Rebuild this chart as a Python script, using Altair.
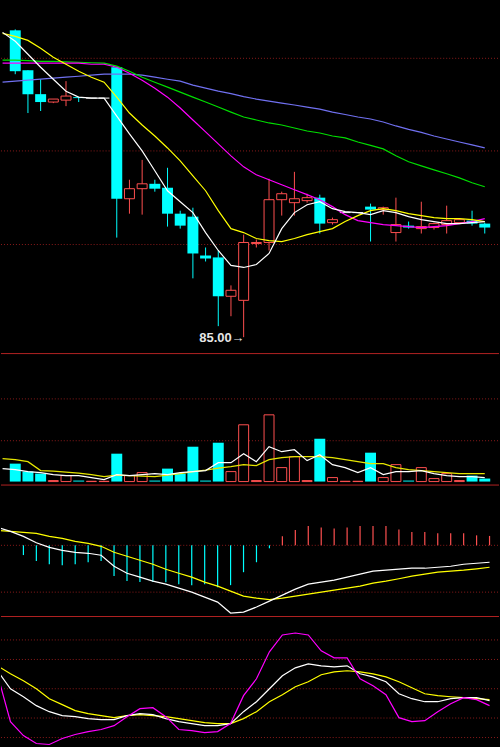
import altair as alt
import numpy as np
import pandas as pd

# ---------------------------------------------------------------- daily bars (yuan)
opens  = [110.67, 107.33, 105.33, 104.67, 104.83, 105.08, 105.00, 105.00, 107.58, 96.58,
          97.42, 97.83, 97.50, 95.33, 95.08, 91.83, 91.67, 88.42, 88.08, 92.83,
          92.92, 96.50, 96.25, 96.42, 96.67, 94.58, 95.42, 95.42, 95.92, 95.67,
          93.75, 94.33, 94.08, 94.17, 94.42, 94.58, 94.75, 94.50]
highs  = [110.75, 107.33, 106.58, 104.92, 106.42, 105.08, 105.00, 105.00, 107.58, 98.17,
          99.83, 98.17, 99.17, 95.58, 95.83, 92.50, 92.25, 89.33, 93.58, 93.17,
          98.25, 97.17, 98.83, 97.00, 96.92, 95.00, 95.42, 95.42, 96.17, 95.92,
          96.67, 94.67, 96.33, 94.58, 96.00, 94.92, 95.58, 94.58]
lows   = [107.00, 103.75, 103.92, 104.58, 104.33, 104.67, 105.00, 105.00, 93.33, 95.33,
          95.25, 97.17, 94.25, 94.08, 89.92, 91.33, 85.92, 86.75, 85.00, 92.50,
          92.25, 95.17, 95.17, 96.25, 93.67, 94.42, 95.42, 95.42, 93.00, 95.25,
          93.00, 94.08, 93.67, 94.00, 93.67, 94.50, 94.33, 93.67]
closes = [107.25, 105.33, 104.67, 104.92, 105.17, 105.00, 105.00, 105.00, 96.58, 97.42,
          97.83, 97.42, 95.33, 94.33, 92.00, 91.58, 88.42, 88.92, 92.92, 92.92,
          96.50, 97.00, 96.58, 96.67, 94.50, 94.83, 95.42, 95.42, 95.67, 95.83,
          94.42, 94.17, 94.25, 94.50, 94.75, 94.83, 94.50, 94.17]
volumes = [9000, 5000, 4000, 500, 3000, 500, 150, 150, 14000, 3000,
           4500, 500, 6500, 4000, 17500, 500, 19500, 5000, 28500, 500,
           33500, 7000, 12500, 500, 21500, 2000, 150, 150, 14500, 2000,
           8500, 500, 7000, 1500, 4000, 500, 3000, 1500]

# ---------------------------------------------------------------- indicator series
# line series carry one extra leading value: the session just before the window
ma5  = [110.50, 109.75, 108.67, 107.58, 106.58, 105.58, 105.08, 105.00, 105.00, 103.50,
        102.00, 100.58, 98.92, 97.25, 96.33, 95.42, 93.75, 92.25, 91.00, 90.83,
        91.08, 92.00, 94.08, 95.42, 96.08, 96.33, 95.75, 95.50, 95.42, 95.25,
        95.58, 95.42, 95.08, 94.83, 94.67, 94.50, 94.50, 94.58, 94.67]
ma10 = [110.42, 110.17, 109.83, 109.17, 108.42, 107.83, 107.25, 106.75, 106.33, 105.08,
        103.75, 102.75, 101.83, 100.83, 99.75, 98.50, 97.25, 95.58, 94.08, 93.75,
        93.25, 93.08, 93.00, 93.25, 93.58, 93.83, 94.08, 94.67, 95.17, 95.58,
        95.75, 95.58, 95.33, 95.17, 95.00, 94.92, 94.92, 94.83, 94.67]
ma20 = [107.92, 107.92, 107.92, 107.92, 107.92, 107.92, 107.92, 107.83, 107.83, 107.58,
        107.08, 106.50, 105.83, 105.08, 104.17, 103.17, 102.17, 101.17, 100.17, 99.25,
        98.58, 98.17, 97.75, 97.33, 96.92, 96.50, 95.92, 95.25, 94.75, 94.58,
        94.42, 94.33, 94.25, 94.17, 94.25, 94.33, 94.50, 94.67, 94.92]
ma30 = [108.17, 108.17, 108.13, 108.08, 108.08, 108.04, 108.00, 107.96, 107.92, 107.67,
        107.25, 106.75, 106.33, 105.92, 105.50, 105.08, 104.67, 104.25, 103.83, 103.42,
        103.17, 102.92, 102.75, 102.50, 102.25, 102.08, 101.83, 101.67, 101.33, 101.04,
        100.75, 100.17, 99.67, 99.33, 99.00, 98.67, 98.33, 97.92, 97.58]
ma60 = [106.33, 106.42, 106.50, 106.58, 106.67, 106.75, 106.83, 106.92, 107.00, 107.00,
        107.00, 106.92, 106.75, 106.58, 106.42, 106.08, 105.83, 105.58, 105.38, 105.13,
        104.92, 104.75, 104.58, 104.42, 104.25, 104.08, 103.83, 103.63, 103.42, 103.25,
        103.00, 102.67, 102.38, 102.13, 101.83, 101.58, 101.33, 101.08, 100.83]
vol_ma5  = [6500, 6000, 5000, 4500, 3500, 3000, 3000, 2000, 1000, 3500,
            3000, 3500, 4000, 3500, 4500, 5000, 5500, 9500, 9500, 14000,
            10000, 17500, 15000, 16000, 10500, 13500, 8500, 7000, 4500, 7000,
            3500, 5000, 5000, 5500, 4000, 3000, 2500, 2500, 2000]
vol_ma10 = [11500, 11000, 10000, 5500, 5250, 4750, 4250, 3500, 2500, 3250,
            3000, 2750, 2500, 3250, 4000, 5000, 5750, 6750, 7500, 8500,
            8000, 11000, 12000, 12500, 12500, 12500, 12000, 11000, 10000, 9000,
            9000, 7000, 6000, 5500, 5000, 4500, 4000, 4000, 4000]
dif = [0.90, 0.70, 0.45, 0.13, -0.10, -0.25, -0.35, -0.40, -0.50, -1.05,
       -1.40, -1.60, -1.80, -1.95, -2.15, -2.35, -2.60, -2.85, -3.40, -3.35,
       -3.10, -2.80, -2.50, -2.20, -1.95, -1.85, -1.75, -1.60, -1.45, -1.30,
       -1.25, -1.20, -1.15, -1.15, -1.10, -1.05, -0.95, -0.90, -0.85]
dea = [0.75, 0.70, 0.65, 0.60, 0.45, 0.35, 0.20, 0.10, -0.05, -0.35,
       -0.55, -0.75, -0.95, -1.20, -1.40, -1.60, -1.85, -2.05, -2.30, -2.55,
       -2.65, -2.73, -2.65, -2.55, -2.45, -2.35, -2.25, -2.15, -2.05, -1.90,
       -1.80, -1.68, -1.55, -1.45, -1.35, -1.30, -1.25, -1.18, -1.10]
macd_hist = [0.00, -0.49, -0.79, -0.95, -1.00, -0.95, -0.85, -0.79, -1.54, -1.79,
             -1.84, -1.84, -1.85, -1.95, -2.00, -1.95, -2.10, -2.00, -1.35, -0.85,
             -0.15, 0.45, 0.77, 0.97, 0.90, 0.85, 0.90, 0.97, 0.97, 0.97,
             0.80, 0.67, 0.67, 0.60, 0.60, 0.60, 0.50, 0.47]
kdj_k = [68.4, 50.0, 41.8, 32.7, 26.5, 22.4, 21.4, 19.4, 18.4, 18.4,
         22.4, 24.5, 23.5, 19.4, 16.3, 14.3, 12.2, 12.2, 14.3, 26.5,
         36.7, 50.0, 63.3, 71.4, 75.5, 73.5, 72.4, 73.5, 65.3, 62.2,
         57.1, 44.9, 39.8, 36.7, 36.7, 39.8, 40.8, 40.8, 37.8]
kdj_d = [73.5, 65.3, 58.2, 50.0, 39.8, 33.7, 27.6, 24.5, 22.4, 20.4,
         22.4, 23.5, 22.4, 21.4, 19.4, 17.3, 15.3, 14.3, 14.3, 19.4,
         26.5, 36.7, 43.9, 52.0, 57.1, 64.3, 67.3, 68.4, 67.3, 65.3,
         62.2, 57.1, 51.0, 44.9, 42.9, 41.8, 40.8, 39.8, 38.8]
kdj_j = [64.3, 16.3, 2.0, -6.1, -7.1, -1.0, 3.1, 6.1, 8.2, 12.2,
         21.4, 29.6, 30.6, 21.4, 8.2, 7.1, 5.1, 6.1, 14.3, 42.9,
         60.2, 87.8, 105.1, 107.1, 105.1, 88.8, 81.6, 81.6, 60.2, 53.1,
         43.9, 20.4, 16.3, 17.3, 26.5, 34.7, 40.8, 38.8, 32.7]

# horizontal guide levels of each pane
price_grid = [92.75, 100.58, 108.33]
volume_grid = [20500, 41500]
macd_grid = [0.0, -2.35]
kdj_grid = [0, 20, 50, 80, 100]

# ---------------------------------------------------------------- styling
UP = "#ff5050"
DOWN = "#00ffff"
GRID = "#8b1a1a"
SEP = "#b22222"
W = 500

n = len(closes)
bars = pd.DataFrame({"i": range(n), "open": opens, "high": highs, "low": lows,
                     "close": closes, "vol": volumes})
bars["dir"] = np.where(bars.close > bars.open, "up",
                       np.where(bars.close < bars.open, "down", "flat"))
bars["vdir"] = np.where(bars.close >= bars.open, "up", "down")

lines = pd.DataFrame({"i": range(-1, n), "ma5": ma5, "ma10": ma10, "ma20": ma20,
                      "ma30": ma30, "ma60": ma60, "vma5": vol_ma5, "vma10": vol_ma10,
                      "dif": dif, "dea": dea, "k": kdj_k, "d": kdj_d, "j": kdj_j})
hist = pd.DataFrame({"i": range(n), "h": macd_hist})
hist["sign"] = np.where(hist.h >= 0, "pos", "neg")

x_scale = alt.Scale(domain=[-0.7308, n - 0.2692], nice=False, zero=False)


def X(field="i"):
    return alt.X(f"{field}:Q", scale=x_scale, axis=None)


def make_y(lo, hi):
    sc = alt.Scale(domain=[lo, hi], nice=False, zero=False)
    return lambda field: alt.Y(f"{field}:Q", scale=sc, axis=None)


def guides(levels, yf):
    return alt.Chart(pd.DataFrame({"v": levels})).mark_rule(
        color=GRID, strokeDash=[1, 2], strokeWidth=1
    ).encode(y=yf("v"), x=alt.value(0), x2=alt.value(W))


def separator():
    return alt.Chart(pd.DataFrame({"v": [0]})).mark_rule(
        color=SEP, strokeWidth=1
    ).encode(y=alt.value(0.5), x=alt.value(0), x2=alt.value(W))


def line(field, color, yf, width=1.2):
    return alt.Chart(lines).mark_line(color=color, strokeWidth=width, clip=True).encode(
        x=X(), y=yf(field))


# ---------------------------------------------------------------- price pane
yp = make_y(83.6667, 113.0833)
cb = alt.Chart(bars)
wicks = cb.transform_filter("datum.dir != 'flat'").mark_rule(strokeWidth=1).encode(
    x=X(), y=yp("low"), y2="high:Q",
    color=alt.Color("dir:N", scale=alt.Scale(domain=["up", "down"], range=[UP, DOWN]),
                    legend=None))
down_body = cb.transform_filter("datum.dir == 'down'").mark_bar(size=11, color=DOWN).encode(
    x=X(), y=yp("open"), y2="close:Q")
up_body = cb.transform_filter("datum.dir == 'up'").mark_bar(
    size=10, fill="black", stroke=UP, strokeWidth=1).encode(
    x=X(), y=yp("open"), y2="close:Q")
flat_body = cb.transform_filter("datum.dir == 'flat'").transform_calculate(
    xl="datum.i - 0.42", xr="datum.i + 0.42").mark_rule(color="white", strokeWidth=1).encode(
    x=X("xl"), x2="xr:Q", y=yp("close"))

low_i = int(np.argmin(lows))
low_lbl = alt.Chart(pd.DataFrame({"i": [low_i], "p": [lows[low_i]],
                                  "t": [f"{lows[low_i]:.2f}\u2192"]})).mark_text(
    align="right", baseline="middle", color="#e6e6e6", font="Liberation Sans",
    fontWeight="bold", fontSize=13, dx=1, dy=1).encode(x=X(), y=yp("p"), text="t:N")

price = alt.layer(
    guides(price_grid, yp), wicks, up_body, down_body, flat_body,
    line("ma60", "#7070f0", yp), line("ma30", "#00dd00", yp), line("ma20", "#ff00ff", yp),
    line("ma10", "#ffff00", yp), line("ma5", "#ffffff", yp), low_lbl,
).properties(width=W, height=353)

# ---------------------------------------------------------------- volume pane
yv = make_y(-1500, 64500)
vb = alt.Chart(bars).transform_calculate(base="0")
vol_down = vb.transform_filter("datum.vdir == 'down'").mark_bar(size=11, color=DOWN).encode(
    x=X(), y=yv("vol"), y2="base:Q")
vol_up = vb.transform_filter("datum.vdir == 'up'").mark_bar(
    size=10, fill="black", stroke=UP, strokeWidth=1).encode(
    x=X(), y=yv("vol"), y2="base:Q")
volume = alt.layer(
    guides(volume_grid, yv), separator(), vol_up, vol_down,
    line("vma10", "#e6e600", yv), line("vma5", "#ffffff", yv),
).properties(width=W, height=132)

# ---------------------------------------------------------------- MACD pane
ym = make_y(-3.55, 3.05)
hist_bars = alt.Chart(hist).transform_calculate(base="0").mark_rule(strokeWidth=1.2).encode(
    x=X(), y=ym("h"), y2="base:Q",
    color=alt.Color("sign:N", scale=alt.Scale(domain=["pos", "neg"], range=[UP, DOWN]),
                    legend=None))
macd = alt.layer(
    guides(macd_grid, ym), separator(), hist_bars,
    line("dea", "#ffff00", ym), line("dif", "#ffffff", ym),
).properties(width=W, height=132)

# ---------------------------------------------------------------- KDJ pane
yk = make_y(-8.163, 124.49)
kdj = alt.layer(
    guides(kdj_grid, yk), separator(),
    line("d", "#ffff00", yk), line("k", "#ffffff", yk), line("j", "#ff00ff", yk),
).properties(width=W, height=130)

chart = alt.vconcat(price, volume, macd, kdj, spacing=0).properties(
    background="black", padding=0
).configure_view(stroke=None)

chart.save("out.html", embed_options={"renderer": "svg", "actions": False})
